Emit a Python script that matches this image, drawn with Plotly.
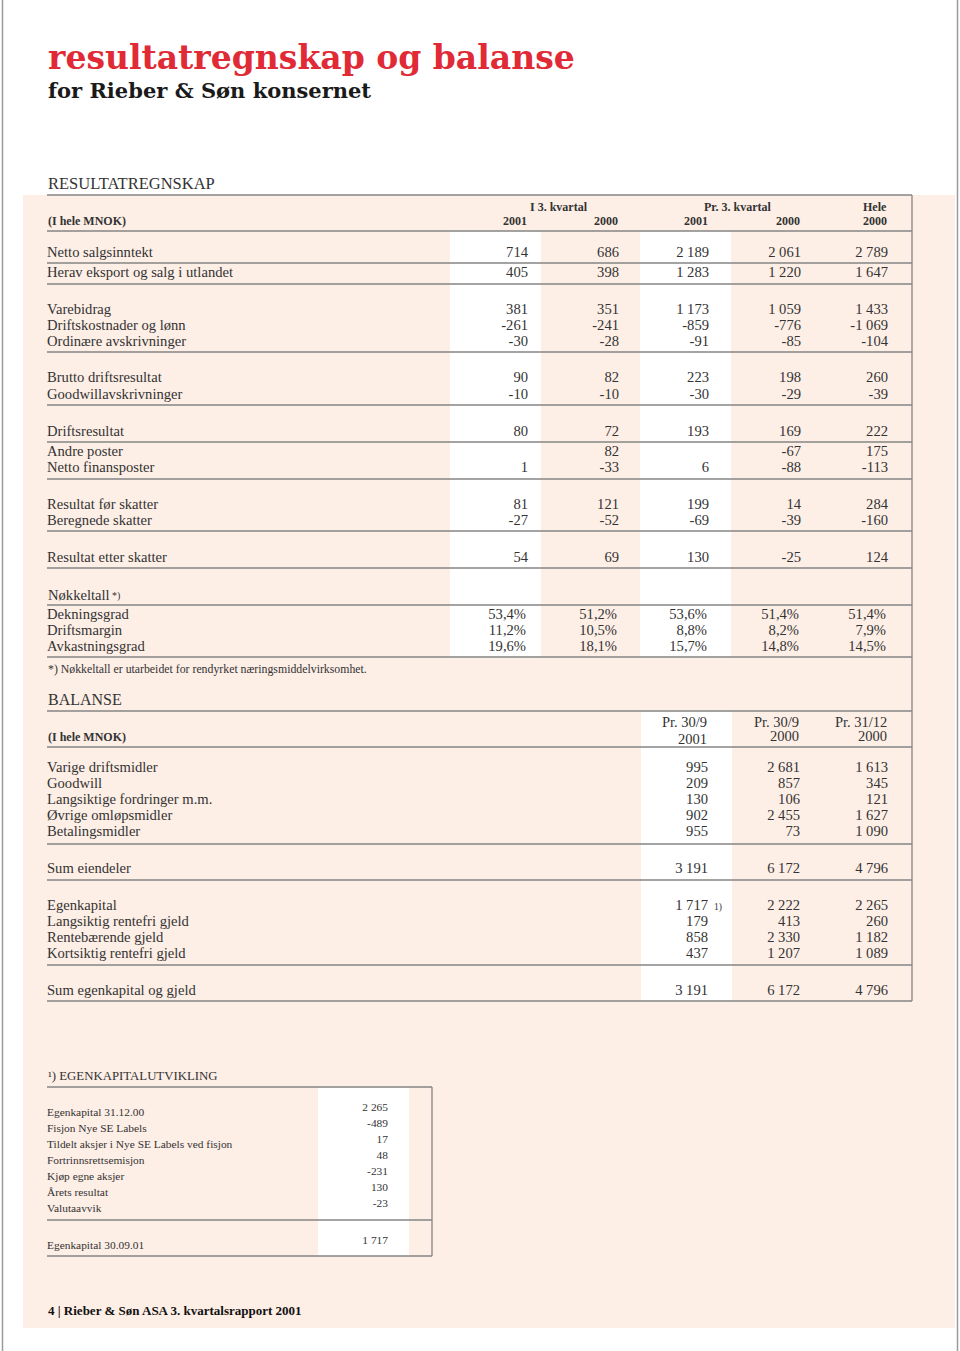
import plotly.graph_objects as go

# ---------------- data ----------------
res_labels = ["Netto salgsinntekt", "Herav eksport og salg i utlandet",
              "Varebidrag", "Driftskostnader og lønn", "Ordinære avskrivninger",
              "Brutto driftsresultat", "Goodwillavskrivninger",
              "Driftsresultat", "Andre poster", "Netto finansposter",
              "Resultat før skatter", "Beregnede skatter",
              "Resultat etter skatter"]
res_q3_2001 = ["714", "405", "381", "-261", "-30", "90", "-10", "80", "", "1", "81", "-27", "54"]
res_q3_2000 = ["686", "398", "351", "-241", "-28", "82", "-10", "72", "82", "-33", "121", "-52", "69"]
res_ytd_2001 = ["2 189", "1 283", "1 173", "-859", "-91", "223", "-30", "193", "", "6", "199", "-69", "130"]
res_ytd_2000 = ["2 061", "1 220", "1 059", "-776", "-85", "198", "-29", "169", "-67", "-88", "14", "-39", "-25"]
res_year_2000 = ["2 789", "1 647", "1 433", "-1 069", "-104", "260", "-39", "222", "175", "-113", "284", "-160", "124"]

kf_labels = ["Dekningsgrad", "Driftsmargin", "Avkastningsgrad"]
kf_q3_2001 = ["53,4%", "11,2%", "19,6%"]
kf_q3_2000 = ["51,2%", "10,5%", "18,1%"]
kf_ytd_2001 = ["53,6%", "8,8%", "15,7%"]
kf_ytd_2000 = ["51,4%", "8,2%", "14,8%"]
kf_year_2000 = ["51,4%", "7,9%", "14,5%"]

res_periods = ["I 3. kvartal", "Pr. 3. kvartal", "Hele"]
res_years = ["2001", "2000", "2001", "2000", "2000"]

bal_labels = ["Varige driftsmidler", "Goodwill", "Langsiktige fordringer m.m.",
              "Øvrige omløpsmidler", "Betalingsmidler", "Sum eiendeler",
              "Egenkapital", "Langsiktig rentefri gjeld", "Rentebærende gjeld",
              "Kortsiktig rentefri gjeld", "Sum egenkapital og gjeld"]
bal_2001 = ["995", "209", "130", "902", "955", "3 191", "1 717", "179", "858", "437", "3 191"]
bal_2000 = ["2 681", "857", "106", "2 455", "73", "6 172", "2 222", "413", "2 330", "1 207", "6 172"]
bal_dec_2000 = ["1 613", "345", "121", "1 627", "1 090", "4 796", "2 265", "260", "1 182", "1 089", "4 796"]
bal_heads_top = ["Pr. 30/9", "Pr. 30/9", "Pr. 31/12"]
bal_heads_year = ["2001", "2000", "2000"]

ek_labels = ["Egenkapital 31.12.00", "Fisjon Nye SE Labels",
             "Tildelt aksjer i Nye SE Labels ved fisjon", "Fortrinnsrettsemisjon",
             "Kjøp egne aksjer", "Årets resultat", "Valutaavvik",
             "Egenkapital 30.09.01"]
ek_values = ["2 265", "-489", "17", "48", "-231", "130", "-23", "1 717"]

# ---------------- layout ----------------
W, H = 960, 1351
LEFT, RIGHT = 47, 912
PINK = "#fdeee6"
INK = "#333333"
RULE = "#858585"
SERIF = "Liberation Serif"
SLAB = "DejaVu Serif"
BODY = 14.6

res_x = [528, 619, 709, 801, 888]
res_y = [253, 273, 310, 326, 342, 378, 395, 432, 452, 468, 505, 521, 558]
kf_y = [615, 631, 647]
bal_x = [708, 800, 888]
bal_y = [768, 784, 800, 816, 832, 869, 906, 922, 938, 954, 991]
ek_y = [1113, 1129, 1145, 1161, 1177, 1193, 1209, 1246]
ek_x = 388

res_rules = [195, 231, 263, 284, 352, 405, 442, 479, 531, 568, 605, 657]
bal_rules = [711, 747, 844, 880, 965, 1001]
ek_rules = [1087, 1220, 1256]

fig = go.Figure()


def column(x, ys, texts, align="right", size=BODY, bold=False, dy=0):
    pts = [(y + dy, t) for y, t in zip(ys, texts) if t]
    fig.add_trace(go.Scatter(
        x=[x] * len(pts), y=[p[0] for p in pts], text=[p[1] for p in pts],
        mode="text",
        textposition="middle left" if align == "right" else "middle right",
        textfont=dict(family=SERIF, size=size, color=INK,
                      weight="bold" if bold else "normal"),
        hoverinfo="skip", showlegend=False))


def note(x, y, s, size=BODY, anchor="left", bold=False, color=INK, family=SERIF):
    fig.add_annotation(x=x, y=y, text=s, showarrow=False, xanchor=anchor,
                       yanchor="middle", borderpad=0,
                       font=dict(family=family, size=size, color=color,
                                 weight="bold" if bold else "normal"))


# labels
column(LEFT, res_y, res_labels, align="left")
column(LEFT, kf_y, kf_labels, align="left")
column(LEFT, bal_y, bal_labels, align="left")
column(LEFT, ek_y, ek_labels, align="left", size=11.4)

# values
for x, vals in zip(res_x, [res_q3_2001, res_q3_2000, res_ytd_2001, res_ytd_2000, res_year_2000]):
    column(x, res_y, vals)
for x, vals in zip(res_x, [kf_q3_2001, kf_q3_2000, kf_ytd_2001, kf_ytd_2000, kf_year_2000]):
    column(x - 2, kf_y, vals)
for x, vals in zip(bal_x, [bal_2001, bal_2000, bal_dec_2000]):
    column(x, bal_y, vals)
column(ek_x, ek_y, ek_values, size=11.4, dy=-5)

# headers
for x, s in zip([589, 773, 888], res_periods):
    note(x, 207, s, size=12, anchor="right", bold=True)
for x, s in zip(res_x, res_years):
    note(x, 221, s, size=12, anchor="right", bold=True)
note(LEFT, 221, "(I hele MNOK)", size=12, bold=True)
note(LEFT, 737, "(I hele MNOK)", size=12, bold=True)
for x, s in zip(bal_x, bal_heads_top):
    note(x, 722, s, size=14.5, anchor="right")
for i, (x, s) in enumerate(zip(bal_x, bal_heads_year)):
    note(x, 739 if i == 0 else 736, s, size=14.5, anchor="right")
note(713, 907, "1)", size=9.5)

# titles
note(LEFT, 57, "resultatregnskap og balanse", size=33, bold=True,
     color="#e02a35", family=SLAB)
note(LEFT, 90, "for Rieber & Søn konsernet", size=21, bold=True,
     color="#1a1a1a", family=SLAB)
note(LEFT, 183, "RESULTATREGNSKAP", size=16.5)
note(LEFT, 595, "Nøkkeltall")
note(111, 596, "*)", size=10)
note(LEFT, 669, "*) Nøkkeltall er utarbeidet for rendyrket næringsmiddelvirksomhet.", size=11.8)
note(LEFT, 699, "BALANSE", size=16)
note(LEFT, 1076, "¹) EGENKAPITALUTVIKLING", size=12.8)
note(LEFT, 1310, "4 | Rieber & Søn ASA 3. kvartalsrapport 2001", size=13, bold=True,
     color="#111111")

# backgrounds and rules
shapes = [dict(type="rect", x0=23, x1=955, y0=195, y1=1328, fillcolor=PINK, line_width=0)]
for x0, x1, y0, y1 in [(450, 541, 231, 657), (640, 731, 231, 657),
                       (641, 732, 711, 1001), (318, 409, 1087, 1256)]:
    shapes.append(dict(type="rect", x0=x0, x1=x1, y0=y0, y1=y1,
                       fillcolor="white", line_width=0))
for y in res_rules + bal_rules:
    shapes.append(dict(type="line", x0=LEFT, x1=RIGHT, y0=y, y1=y,
                       line=dict(color=RULE, width=1.3)))
for y in ek_rules:
    shapes.append(dict(type="line", x0=LEFT, x1=432, y0=y, y1=y,
                       line=dict(color=RULE, width=1.3)))
shapes.append(dict(type="line", x0=RIGHT, x1=RIGHT, y0=195, y1=1001,
                   line=dict(color=RULE, width=1.3)))
shapes.append(dict(type="line", x0=432, x1=432, y0=1087, y1=1256,
                   line=dict(color=RULE, width=1.3)))
for x in [2.5, 957.5]:
    shapes.append(dict(type="line", x0=x, x1=x, y0=0, y1=H,
                       line=dict(color="#9a9a9a", width=1.5)))
for s in shapes:
    s.update(xref="x", yref="y", layer="below")

fig.update_layout(
    width=W, height=H, margin=dict(l=0, r=0, t=0, b=0),
    paper_bgcolor="white", plot_bgcolor="white", shapes=shapes,
    xaxis=dict(range=[0, W], visible=False, fixedrange=True),
    yaxis=dict(range=[H, 0], visible=False, fixedrange=True),
)

fig.write_html("out.html", config={"displayModeBar": False},
               post_script="document.body.style.margin='0';document.body.style.overflow='hidden';")
